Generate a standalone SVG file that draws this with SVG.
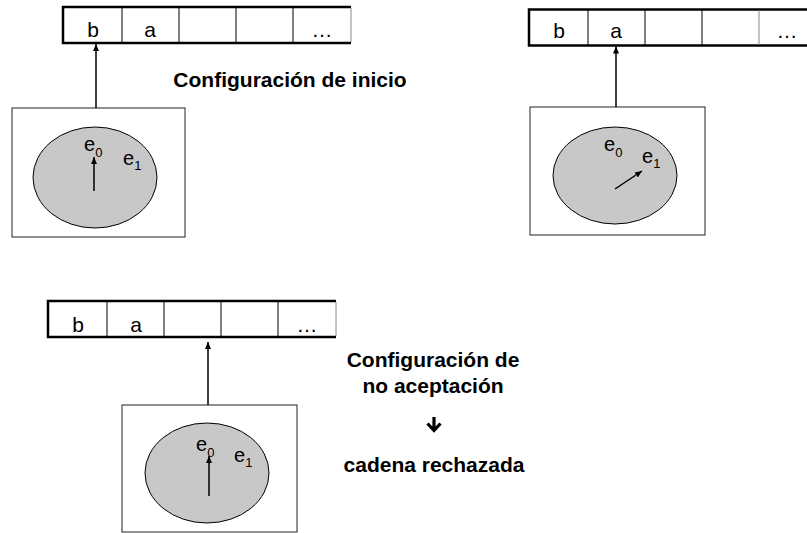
<svg xmlns="http://www.w3.org/2000/svg" width="807" height="533" viewBox="0 0 807 533">
<defs>
<style>
.tape{fill:#fff;stroke:#000;stroke-width:2.5}
.cell{stroke:#000;stroke-width:1}
.edge{stroke:#888;stroke-width:1}
.sym{font-family:"Liberation Sans",Arial,sans-serif;font-size:21px;fill:#000;text-anchor:middle}
.box{fill:#fff;stroke:#222;stroke-width:1}
.ell{fill:#c8c8c8;stroke:#000;stroke-width:1}
.st{font-family:"Liberation Sans",Arial,sans-serif;font-size:20px;fill:#000}
.sub{font-size:13px}
.lbl{font-family:"Liberation Sans",Arial,sans-serif;font-size:21px;font-weight:bold;fill:#000;text-anchor:middle}
.conn{stroke:#000;stroke-width:1.5;fill:none}
</style>
<marker id="ah" markerUnits="userSpaceOnUse" markerWidth="8" markerHeight="8" refX="7" refY="4" orient="auto">
<path d="M0,1 L7,4 L0,7 Z" fill="#000"/>
</marker>
</defs>

<g id="tape1">
<path class="tape" d="M351,7 H63 V43 H351"/>
<line class="cell" x1="122" y1="7" x2="122" y2="43"/>
<line class="cell" x1="179" y1="7" x2="179" y2="43"/>
<line class="cell" x1="236" y1="7" x2="236" y2="43"/>
<line class="cell" x1="293" y1="7" x2="293" y2="43"/>
<line class="edge" x1="351" y1="8" x2="351" y2="42"/>
<text class="sym" x="93" y="37">b</text>
<text class="sym" x="150" y="37">a</text>
<text class="sym" x="322" y="37">…</text>
</g>

<g id="tape2">
<path class="tape" d="M807,9.5 H529 V45.5 H807"/>
<line class="cell" x1="588" y1="9.5" x2="588" y2="45.5"/>
<line class="cell" x1="645" y1="9.5" x2="645" y2="45.5"/>
<line class="cell" x1="702" y1="9.5" x2="702" y2="45.5"/>
<line class="edge" x1="759" y1="10" x2="759" y2="45"/>
<text class="sym" x="559" y="38">b</text>
<text class="sym" x="616" y="38">a</text>
<text class="sym" x="787" y="38">…</text>
</g>

<g id="tape3">
<path class="tape" d="M336,301 H48 V337 H336"/>
<line class="cell" x1="107" y1="301" x2="107" y2="337"/>
<line class="cell" x1="164" y1="301" x2="164" y2="337"/>
<line class="cell" x1="221" y1="301" x2="221" y2="337"/>
<line class="cell" x1="278" y1="301" x2="278" y2="337"/>
<line class="edge" x1="336" y1="302" x2="336" y2="336"/>
<text class="sym" x="78" y="332">b</text>
<text class="sym" x="136" y="332">a</text>
<text class="sym" x="307" y="332">…</text>
</g>

<g id="machine1">
<rect class="box" x="12" y="108" width="173" height="129"/>
<ellipse class="ell" cx="95" cy="177.5" rx="62" ry="50.5"/>
<text class="st" x="84" y="151">e<tspan class="sub" dy="6">0</tspan></text>
<text class="st" x="123" y="165">e<tspan class="sub" dy="5">1</tspan></text>
</g>

<g id="machine2">
<rect class="box" x="530" y="107" width="175" height="128"/>
<ellipse class="ell" cx="615" cy="175.5" rx="62" ry="48.5"/>
<text class="st" x="604" y="151">e<tspan class="sub" dy="6">0</tspan></text>
<text class="st" x="642" y="163">e<tspan class="sub" dy="5">1</tspan></text>
</g>

<g id="machine3">
<rect class="box" x="122" y="405" width="175" height="127"/>
<ellipse class="ell" cx="207" cy="473" rx="62" ry="50"/>
<text class="st" x="196" y="451">e<tspan class="sub" dy="6">0</tspan></text>
<text class="st" x="234" y="462">e<tspan class="sub" dy="5">1</tspan></text>
</g>

<g id="labels">
<text class="lbl" x="290" y="87">Configuración de inicio</text>
<text class="lbl" x="433" y="367">Configuración de</text>
<text class="lbl" x="433" y="393">no aceptación</text>
<path d="M434,417 V430 M427.5,423.5 L434,430.5 L440.5,423.5" stroke="#000" stroke-width="3.2" fill="none"/>
<text class="lbl" x="434" y="472">cadena rechazada</text>
</g>

<g id="connectors">
<line class="conn" x1="96" y1="108" x2="96" y2="44" marker-end="url(#ah)"/>
<line class="conn" x1="616" y1="107" x2="616" y2="46.5" marker-end="url(#ah)"/>
<line class="conn" x1="208" y1="405" x2="208" y2="342" marker-end="url(#ah)"/>
<line class="conn" x1="94" y1="191" x2="94" y2="157" marker-end="url(#ah)"/>
<line class="conn" x1="615" y1="189" x2="642" y2="171" marker-end="url(#ah)"/>
<line class="conn" x1="209" y1="496" x2="209" y2="456" marker-end="url(#ah)"/>
</g>
</svg>
